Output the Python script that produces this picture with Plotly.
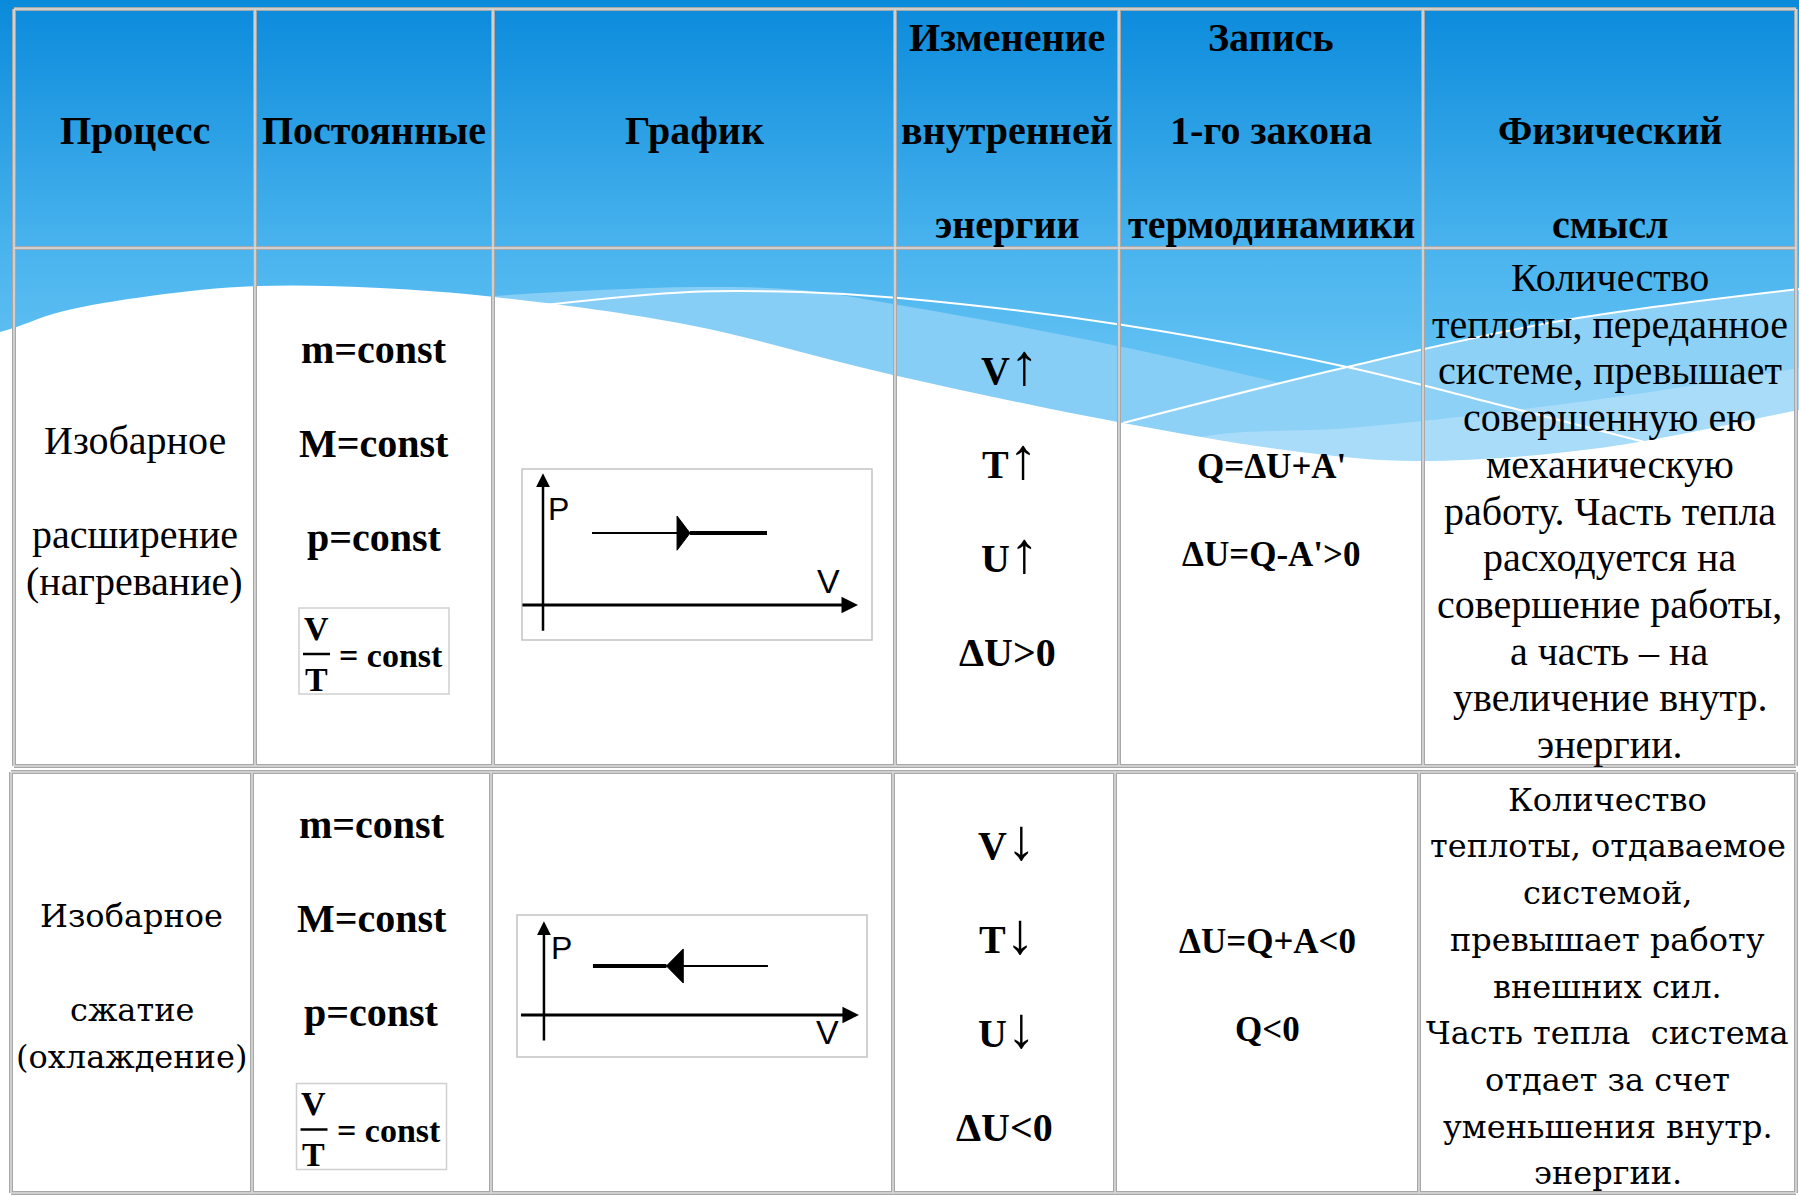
import plotly.graph_objects as go

W, H = 1799, 1196

# ---- table content ----
header_lines = [
	["Процесс"],
	["Постоянные"],
	["График"],
	["Изменение", "внутренней", "энергии"],
	["Запись", "1-го закона", "термодинамики"],
	["", "Физический", "смысл"],
]

process_lines = [
	["Изобарное", "", "расширение", "(нагревание)"],
	["Изобарное", "", "сжатие", "(охлаждение)"],
]
constants = ["m=const", "M=const", "p=const"]
ratio_num, ratio_den, ratio_rhs = "V", "T", "= const"
up, down = "↑", "↓"
energy_change = [
	[("V", up), ("T", up), ("U", up), ("ΔU>0", "")],
	[("V", down), ("T", down), ("U", down), ("ΔU<0", "")],
]
first_law = [
	["Q=ΔU+A'", "ΔU=Q-A'>0"],
	["ΔU=Q+A<0", "Q<0"],
]
meaning = [
	["Количество", "теплоты, переданное", "системе, превышает", "совершенную ею",
	 "механическую", "работу. Часть тепла", "расходуется на", "совершение работы,",
	 "а часть – на", "увеличение внутр.", "энергии."],
	["Количество", "теплоты, отдаваемое", "системой,", "превышает работу",
	 "внешних сил.", "Часть тепла\u00a0 система", "отдает за счет", "уменьшения внутр.", "энергии."],
]

# p-V diagrams: isobaric process from V_start to V_end at constant p
V_start = [1.4, 6.4]
V_end = [6.4, 1.4]
p_level = [4.2, 3.45]
V_arrow = [4.2, 3.5]

# ---- geometry (pixels) ----
cols = [[14, 255, 493, 895, 1119, 1423, 1796], [11, 252, 491, 893, 1115, 1419, 1796]]
header_y = [9, 248]
rows_y = [[248, 766], [772, 1193]]
pv_boxes = [(522, 469, 872, 640), (517, 915, 867, 1057)]
pv_xrange = [[-0.6, 9.4], [-0.77, 9.23]]
pv_yrange = [[-2.05, 7.95], [-2.96, 7.04]]
pv_axis_V = [(-0.63, 9.0), (-0.7, 9.0)]
pv_axis_p = [(-1.6, 7.7), (-1.9, 6.6)]
pv_label_P = [(0.45, 5.6), (0.5, 4.7)]
pv_label_V = [(8.15, 1.4), (8.1, -1.2)]
pv_head = [(0.37, 1.0), (0.48, 1.2)]  # arrowhead length (V), half height (p)

serif = "Liberation Serif"
hdr_font = dict(family=serif, size=40, color="black", weight="bold")
bold_font = dict(family=serif, size=40, color="black", weight="bold")
law_font = dict(family=serif, size=35, color="black", weight="bold")
ratio_font = dict(family=serif, size=34, color="black", weight="bold")
text_fonts = [dict(family=serif, size=40, color="black"), dict(family="DejaVu Serif", size=32, color="black")]

fig = go.Figure()

# background gradient
fig.add_trace(go.Scatter(
	x=[0, W, W, 0, 0], y=[0, 0, H, H, 0], mode="none", fill="toself",
	fillgradient=dict(type="vertical", start=0, stop=420,
		colorscale=[[0, "#0A8ADB"], [0.6, "#4AB4EE"], [1, "#6EC8F6"]]),
	hoverinfo="skip", showlegend=False,
))

def wave(xs, ys, color):
	fig.add_trace(go.Scatter(x=xs, y=ys, mode="none", fill="toself", fillcolor=color,
		line_shape="spline", hoverinfo="skip", showlegend=False))

def wave_line(xs, ys):
	fig.add_trace(go.Scatter(x=xs, y=ys, mode="lines", line=dict(color="white", width=2, shape="spline"),
		hoverinfo="skip", showlegend=False))

#decorative wave bands
wave([250, 380, 494, 600, 700, 800, 899, 1123, 1347, 1550, 1700, 1900, 1900, 250],
	[330, 305, 296, 290, 287, 290, 305, 347, 398, 440, 455, 460, 900, 900], "#86CEF6")
wave([1000, 1123, 1347, 1560, 1799, 1950, 1950, 1000],
	[465, 423, 367, 321, 289, 275, 900, 900], "#8DD1F7")
wave([1100, 1200, 1350, 1500, 1650, 1799, 1950, 1950, 1100],
	[470, 437, 428, 412, 392, 368, 340, 900, 900], "#A8DCF8")
wave([-150, 0, 60, 150, 258, 380, 494, 689, 893, 1123, 1300, 1416, 1600, 1799, 1950, 1950, -150],
	[360, 332, 312, 296, 286, 288, 297, 325, 375, 423, 452, 461, 448, 410, 380, 1400, 1400], "white")
wave_line([545, 689, 800, 899, 1123, 1347, 1500, 1668], [305, 292, 292, 298, 325, 367, 405, 448])
wave_line([1123, 1347, 1560, 1799], [423, 367, 321, 289])

shapes = []
annotations = []

def txt(x, y, s, font):
	annotations.append(dict(x=x, y=y, xref="x", yref="y", text=s, showarrow=False,
		font=font, xanchor="center", yanchor="middle"))

#table borders
def grid(xs, ys):
	for lw, lc in [(4, "#A8A8A8"), (1.5, "#DCDCDC")]:
		for x in xs:
			shapes.append(dict(type="line", xref="x", yref="y", x0=x, x1=x, y0=ys[0], y1=ys[-1],
				line=dict(color=lc, width=lw), layer="above"))
		for y in ys:
			shapes.append(dict(type="line", xref="x", yref="y", x0=xs[0], x1=xs[-1], y0=y, y1=y,
				line=dict(color=lc, width=lw), layer="above"))

grid(cols[0], [header_y[0], header_y[1], rows_y[0][1]])
grid(cols[1], rows_y[1])

#header
hc = (header_y[0] + header_y[1]) / 2 + 2
for j, lines in enumerate(header_lines):
	cx = (cols[0][j] + cols[0][j+1]) / 2
	n = len(lines)
	for i, s in enumerate(lines):
		txt(cx, hc + (i - (n - 1) / 2) * 93.5, s, hdr_font)

#rows
for r in range(2):
	c = cols[r]
	cy = (rows_y[r][0] + rows_y[r][1]) / 2
	centers = [(c[j] + c[j+1]) / 2 for j in range(6)]
	#process name
	lines = process_lines[r]
	for i, s in enumerate(lines):
		txt(centers[0], cy + 4 + (i - 1.5) * 47, s, text_fonts[r])
	#constants
	for i, s in enumerate(constants):
		txt(centers[1], cy - 17 + (i - 1.5) * 94, s, bold_font)
	bx, by = centers[1], cy + 144
	shapes.append(dict(type="rect", xref="x", yref="y", x0=bx - 75, x1=bx + 75, y0=by - 43, y1=by + 43,
		fillcolor="white", line=dict(color="#D0D0D0", width=1.5), layer="above"))
	shapes.append(dict(type="line", xref="x", yref="y", x0=bx - 71, x1=bx - 44, y0=by + 3, y1=by + 3,
		line=dict(color="black", width=2.5), layer="above"))
	txt(bx - 58, by - 23, ratio_num, ratio_font)
	txt(bx - 58, by + 28, ratio_den, ratio_font)
	txt(bx + 17, by + 4, ratio_rhs, ratio_font)
	#energy change
	lines = energy_change[r]
	for i, (s, arr) in enumerate(lines):
		dy = 0
		if arr:
			s = s + "<span style='font-size:58px;font-weight:normal'>" + arr + "</span>"
			dy = -6
		txt(centers[3] + (3 if arr else 0), cy + 4 + dy + (i - 1.5) * 94, s, bold_font)
	#first law
	lines = first_law[r]
	for i, s in enumerate(lines):
		txt(centers[4], cy + 3 + (i - 0.5) * 88, s, law_font)
	#physical meaning
	lines = meaning[r]
	n = len(lines)
	for i, s in enumerate(lines):
		txt(centers[5], cy + 4 + (i - (n - 1) / 2) * 46.7, s, text_fonts[r])

#p-V diagrams in inset axes
for r in range(2):
	xa, ya = "x%d" % (r + 2), "y%d" % (r + 2)
	x0, y0, x1, y1 = pv_boxes[r]
	fig.update_layout(**{
		"xaxis%d" % (r + 2): dict(domain=[x0 / W, x1 / W], range=pv_xrange[r], visible=False, anchor=ya, fixedrange=True),
		"yaxis%d" % (r + 2): dict(domain=[1 - y1 / H, 1 - y0 / H], range=pv_yrange[r], visible=False, anchor=xa, fixedrange=True),
	})
	shapes.append(dict(type="rect", xref=xa + " domain", yref=ya + " domain", x0=0, x1=1, y0=0, y1=1,
		line=dict(color="#C4C4C4", width=1.5), layer="above"))
	#axes with arrows
	annotations.append(dict(x=pv_axis_V[r][1], y=0, ax=pv_axis_V[r][0], ay=0, xref=xa, yref=ya, axref=xa, ayref=ya,
		text="", showarrow=True, arrowhead=2, arrowsize=1.1, arrowwidth=3, arrowcolor="black"))
	annotations.append(dict(x=0, y=pv_axis_p[r][1], ax=0, ay=pv_axis_p[r][0], xref=xa, yref=ya, axref=xa, ayref=ya,
		text="", showarrow=True, arrowhead=2, arrowsize=1.1, arrowwidth=2.5, arrowcolor="black"))
	annotations.append(dict(x=pv_label_P[r][0], y=pv_label_P[r][1], xref=xa, yref=ya, text="P", showarrow=False,
		font=dict(family="Liberation Sans", size=32, color="black")))
	annotations.append(dict(x=pv_label_V[r][0], y=pv_label_V[r][1], xref=xa, yref=ya, text="V", showarrow=False,
		font=dict(family="Liberation Sans", size=34, color="black")))
	#process line
	fig.add_trace(go.Scatter(x=[V_start[r], V_arrow[r]], y=[p_level[r], p_level[r]], mode="lines",
		line=dict(color="black", width=2), xaxis=xa, yaxis=ya, hoverinfo="skip", showlegend=False))
	fig.add_trace(go.Scatter(x=[V_arrow[r], V_end[r]], y=[p_level[r], p_level[r]], mode="lines",
		line=dict(color="black", width=4), xaxis=xa, yaxis=ya, hoverinfo="skip", showlegend=False))
	d = 1 if V_end[r] > V_start[r] else -1
	hl, hh = pv_head[r]
	fig.add_trace(go.Scatter(
		x=[V_arrow[r], V_arrow[r] - d * hl, V_arrow[r] - d * hl, V_arrow[r]],
		y=[p_level[r], p_level[r] + hh, p_level[r] - hh, p_level[r]],
		mode="lines", fill="toself", fillcolor="black", line=dict(color="black", width=1),
		xaxis=xa, yaxis=ya, hoverinfo="skip", showlegend=False))

fig.update_layout(
	width=W, height=H,
	margin=dict(l=0, r=0, t=0, b=0),
	paper_bgcolor="white", plot_bgcolor="rgba(0,0,0,0)",
	xaxis=dict(range=[0, W], visible=False, domain=[0, 1], fixedrange=True),
	yaxis=dict(range=[H, 0], visible=False, domain=[0, 1], fixedrange=True),
	shapes=shapes, annotations=annotations,
	showlegend=False, hovermode=False,
)

fig.write_html("out.html", config={"displayModeBar": False},
	post_script="document.body.style.margin='0';document.body.style.overflow='hidden';")
